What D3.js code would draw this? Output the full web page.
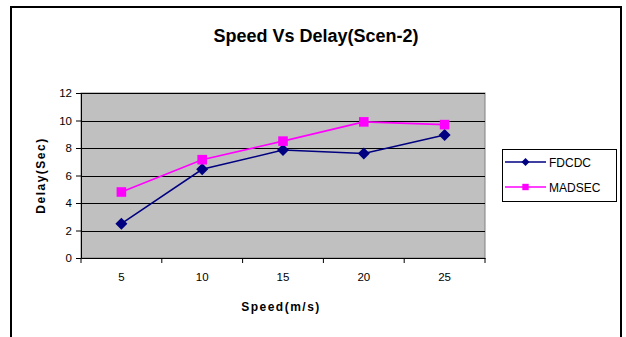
<!DOCTYPE html>
<html>
<head>
<meta charset="utf-8">
<script src="https://cdn.jsdelivr.net/npm/d3@7"></script>
<style>
  html, body { margin: 0; padding: 0; background: #fff; }
  svg { display: block; font-family: "Liberation Sans", Arial, sans-serif; }
</style>
</head>
<body>
<svg id="chart" width="626" height="337"></svg>
<script>
const title = "Speed Vs Delay(Scen-2)";
const xTitle = "Speed(m/s)";
const yTitle = "Delay(Sec)";
const categories = ["5", "10", "15", "20", "25"];
const fdcdc = [2.5, 6.45, 7.85, 7.6, 8.95];
const madsec = [4.8, 7.15, 8.5, 9.9, 9.7];
const yTicks = [0, 2, 4, 6, 8, 10, 12];
const seriesNames = ["FDCDC", "MADSEC"];
const seriesColors = ["#000080", "#ff00ff"];

const series = [
  { name: seriesNames[0], values: fdcdc, color: seriesColors[0], shape: "diamond" },
  { name: seriesNames[1], values: madsec, color: seriesColors[1], shape: "square" }
];

function markerPath(shape, r) {
  if (shape === "diamond") return `M0,${-r}L${r},0L0,${r}L${-r},0Z`;
  return `M${-r * 0.8},${-r * 0.8}H${r * 0.8}V${r * 0.8}H${-r * 0.8}Z`;
}

const svg = d3.select("#chart");

// outer chart border
svg.append("rect")
  .attr("x", 11).attr("y", 7)
  .attr("width", 610).attr("height", 345)
  .attr("fill", "#fff").attr("stroke", "#000").attr("stroke-width", 2);

const plot = { left: 81, right: 485, top: 93, bottom: 258 };

const x = d3.scaleBand().domain(categories).range([plot.left, plot.right]);
const y = d3.scaleLinear().domain([0, 12]).range([plot.bottom, plot.top]);

// plot area
svg.append("rect")
  .attr("x", plot.left).attr("y", plot.top)
  .attr("width", plot.right - plot.left).attr("height", plot.bottom - plot.top)
  .attr("fill", "#c0c0c0").attr("stroke", "#808080").attr("stroke-width", 1);

// gridlines
svg.append("g").selectAll("line")
  .data(yTicks.filter(t => t > 0))
  .join("line")
  .attr("x1", plot.left).attr("x2", plot.right)
  .attr("y1", d => Math.round(y(d)) + 0.5).attr("y2", d => Math.round(y(d)) + 0.5)
  .attr("stroke", "#000").attr("stroke-width", 1);

// y axis
const yAxis = svg.append("g")
  .attr("transform", `translate(${plot.left},0)`)
  .call(d3.axisLeft(y).tickValues(yTicks).tickSize(5).tickPadding(4).tickFormat(d3.format("d")));
yAxis.select(".domain").attr("stroke", "#000");
yAxis.selectAll(".tick line").attr("stroke", "#000");
yAxis.selectAll("text").attr("font-size", 11.5).attr("fill", "#000")
  .attr("font-family", "'Liberation Sans', Arial, sans-serif");

// x axis
const xAxis = svg.append("g")
  .attr("transform", `translate(0,${plot.bottom})`)
  .call(d3.axisBottom(x).tickSize(0).tickPadding(15));
xAxis.select(".domain").attr("stroke", "#000");
xAxis.selectAll("text").attr("font-size", 11.5).attr("fill", "#000")
  .attr("font-family", "'Liberation Sans', Arial, sans-serif");
// tick marks at band boundaries
const boundaries = categories.map(c => x(c)).concat([x(categories[categories.length - 1]) + x.bandwidth()]);
xAxis.selectAll(".bound")
  .data(boundaries)
  .join("line")
  .attr("class", "bound")
  .attr("x1", d => d).attr("x2", d => d)
  .attr("y1", 0).attr("y2", 5)
  .attr("stroke", "#000");

// lines & markers
const line = d3.line()
  .x((d, i) => x(categories[i]) + x.bandwidth() / 2)
  .y(d => y(d));

series.forEach(s => {
  svg.append("path")
    .datum(s.values)
    .attr("d", line)
    .attr("fill", "none")
    .attr("stroke", s.color)
    .attr("stroke-width", 1.6);
  svg.append("g").selectAll("path")
    .data(s.values)
    .join("path")
    .attr("d", markerPath(s.shape, s.shape === "diamond" ? 6 : 6))
    .attr("transform", (d, i) => `translate(${x(categories[i]) + x.bandwidth() / 2},${y(d)})`)
    .attr("fill", s.color);
});

// titles
svg.append("text")
  .attr("x", 316).attr("y", 42)
  .attr("text-anchor", "middle")
  .attr("font-size", 18).attr("font-weight", "bold")
  .text(title);

svg.append("text")
  .attr("x", 281).attr("y", 311)
  .attr("text-anchor", "middle")
  .attr("font-size", 12).attr("font-weight", "bold")
  .attr("letter-spacing", 1.5)
  .text(xTitle);

svg.append("text")
  .attr("transform", `translate(45,${(plot.top + plot.bottom) / 2}) rotate(-90)`)
  .attr("text-anchor", "middle")
  .attr("font-size", 12).attr("font-weight", "bold")
  .attr("letter-spacing", 1.5)
  .text(yTitle);

// legend
const legend = svg.append("g");
legend.append("rect")
  .attr("x", 502.5).attr("y", 149.5)
  .attr("width", 114).attr("height", 52)
  .attr("fill", "#fff").attr("stroke", "#000").attr("stroke-width", 1);

series.forEach((s, i) => {
  const ly = 162 + i * 25;
  legend.append("line")
    .attr("x1", 505).attr("x2", 546)
    .attr("y1", ly).attr("y2", ly)
    .attr("stroke", s.color).attr("stroke-width", 1.6);
  legend.append("path")
    .attr("d", markerPath(s.shape, 4))
    .attr("transform", `translate(525.5,${ly})`)
    .attr("fill", s.color);
  legend.append("text")
    .attr("x", 549).attr("y", ly + 4.5)
    .attr("font-size", 12)
    .text(s.name);
});
</script>
</body>
</html>
